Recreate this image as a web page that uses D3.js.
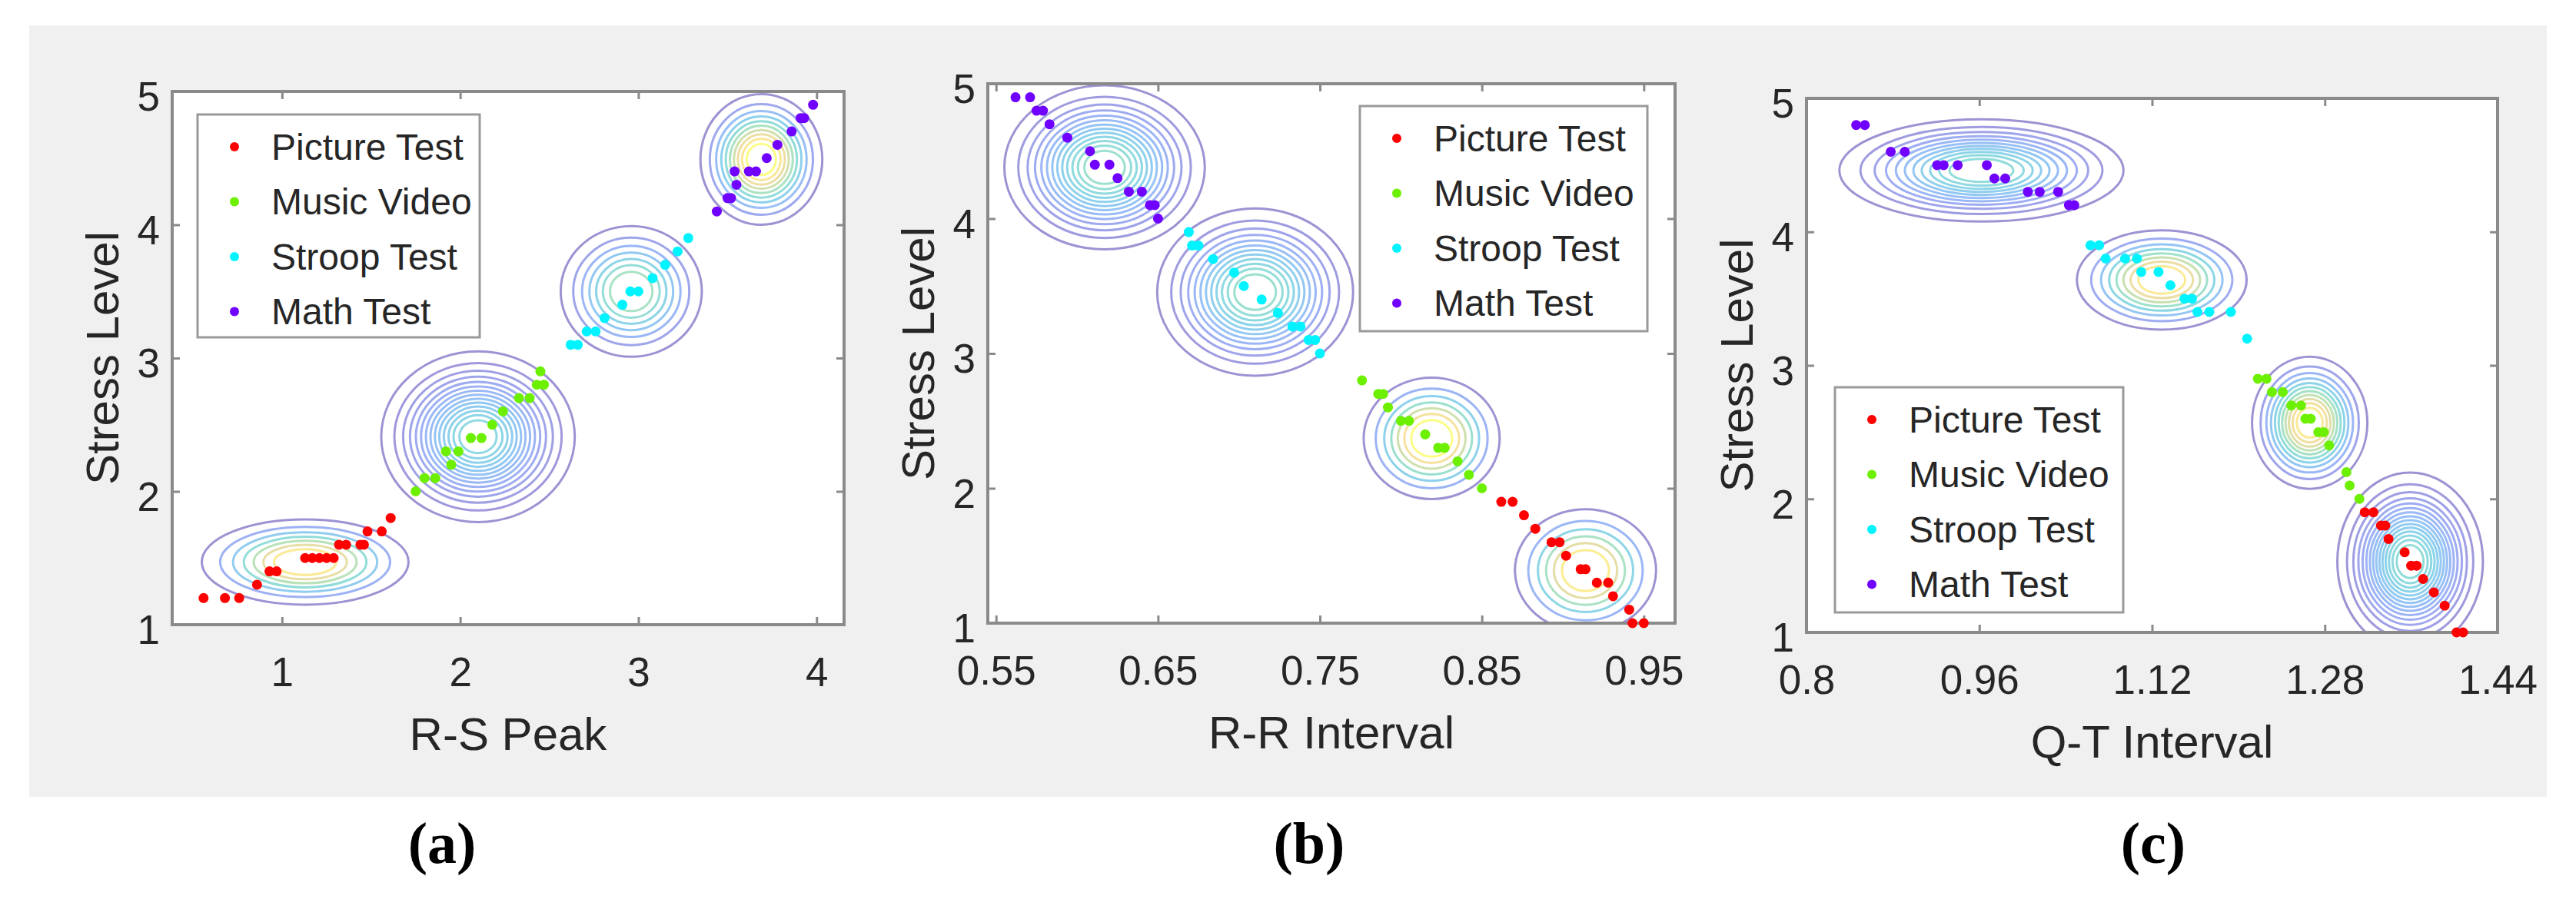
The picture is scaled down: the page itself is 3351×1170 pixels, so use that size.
<!DOCTYPE html>
<meta charset="utf-8">
<style>
  body { margin: 0; background: #fff; }
  text { font-family: "Liberation Sans", Arial, sans-serif; fill: #262626; }
  .tick line { stroke: #8a8a8a; stroke-width: 3px; }
  .tick text { font-size: 53px; }
  .domain { display: none; }
  .frame { fill: none; stroke: #8a8a8a; stroke-width: 4px; }
  .legend rect { fill: #fff; stroke: #9a9a9a; stroke-width: 3px; }
  .legend text { font-size: 48px; }
  .axis-label { font-size: 60px; text-anchor: middle; }
  .caption { font-family: "Palatino Linotype", "Book Antiqua", "Liberation Serif", serif; font-size: 76px; font-weight: bold; text-anchor: middle; fill: #000; }
</style>
<body>
<script src="https://d3js.org/d3.v7.min.js"></script>
<script>
// groups shared by all three panels
var groups = ["Picture Test", "Music Video", "Stroop Test", "Math Test"];
var yTicks = [1, 2, 3, 4, 5];

// (a) R-S Peak
var aTicks = [1, 2, 3, 4];
var aPictureX = [0.56,0.68,0.76,0.86,0.93,0.97,1.13,1.17,1.21,1.25,1.29,1.32,1.36,1.44,1.46,1.48,1.56,1.61];
var aPictureY = [1.2,1.2,1.2,1.3,1.4,1.4,1.5,1.5,1.5,1.5,1.5,1.6,1.6,1.6,1.6,1.7,1.7,1.8];
var aMusicX = [1.75,1.80,1.86,1.95,1.92,1.99,2.06,2.12,2.18,2.24,2.33,2.39,2.43,2.47,2.45];
var aMusicY = [2.0,2.1,2.1,2.2,2.3,2.3,2.4,2.4,2.5,2.6,2.7,2.7,2.8,2.8,2.9];
var aStroopX = [2.62,2.66,2.71,2.76,2.81,2.91,2.955,3.0,3.08,3.15,3.22,3.28];
var aStroopY = [3.1,3.1,3.2,3.2,3.3,3.4,3.5,3.5,3.6,3.7,3.8,3.9];
var aMathX = [3.44,3.50,3.52,3.55,3.54,3.62,3.66,3.72,3.78,3.86,3.91,3.93,3.98];
var aMathY = [4.1,4.2,4.2,4.3,4.4,4.4,4.4,4.5,4.6,4.7,4.8,4.8,4.9];
// gaussian contours: centre, outer half widths, ring count, colour reached by inner ring
var aCenterX = [1.13, 2.10, 2.96, 3.69];
var aCenterY = [1.47, 2.41, 3.50, 4.49];
var aSpreadX = [0.58, 0.543, 0.396, 0.342];
var aSpreadY = [0.32, 0.64, 0.49, 0.49];
var aRings = [7, 14, 7, 10];
var aPeak = [0.9, 0.4, 0.55, 1.0];

// (b) R-R Interval
var bTicks = [0.55, 0.65, 0.75, 0.85, 0.95];
var bPictureX = [0.862,0.869,0.876,0.883,0.893,0.898,0.902,0.911,0.914,0.921,0.928,0.931,0.941,0.943,0.950];
var bPictureY = [1.9,1.9,1.8,1.7,1.6,1.6,1.5,1.4,1.4,1.3,1.3,1.2,1.1,1.0,1.0];
var bMusicX = [0.776,0.786,0.789,0.792,0.800,0.805,0.815,0.823,0.827,0.835,0.842,0.850];
var bMusicY = [2.8,2.7,2.7,2.6,2.5,2.5,2.4,2.3,2.3,2.2,2.1,2.0];
var bStroopX = [0.669,0.671,0.675,0.684,0.697,0.703,0.714,0.724,0.733,0.738,0.743,0.747,0.750];
var bStroopY = [3.9,3.8,3.8,3.7,3.6,3.5,3.4,3.3,3.2,3.2,3.1,3.1,3.0];
var bMathX = [0.562,0.571,0.575,0.579,0.583,0.594,0.608,0.611,0.620,0.625,0.632,0.640,0.645,0.648,0.650];
var bMathY = [4.9,4.9,4.8,4.8,4.7,4.6,4.5,4.4,4.4,4.3,4.2,4.2,4.1,4.1,4.0];
var bCenterX = [0.914, 0.819, 0.710, 0.617];
var bCenterY = [1.39, 2.37, 3.455, 4.38];
var bSpreadX = [0.0436, 0.042, 0.0605, 0.0619];
var bSpreadY = [0.455, 0.45, 0.62, 0.608];
var bRings = [6, 7, 12, 13];
var bPeak = [0.92, 1.0, 0.5, 0.5];

// (c) Q-T Interval
var cTicks = [0.8, 0.96, 1.12, 1.28, 1.44];
var cPictureX = [1.317,1.325,1.332,1.336,1.339,1.354,1.360,1.365,1.371,1.381,1.391,1.402,1.408];
var cPictureY = [1.9,1.9,1.8,1.8,1.7,1.6,1.5,1.5,1.4,1.3,1.2,1.0,1.0];
var cMusicX = [1.218,1.226,1.231,1.241,1.249,1.258,1.262,1.267,1.274,1.279,1.284,1.300,1.303,1.312];
var cMusicY = [2.9,2.9,2.8,2.8,2.7,2.7,2.6,2.6,2.5,2.5,2.4,2.2,2.1,2.0];
var cStroopX = [1.063,1.071,1.077,1.095,1.106,1.110,1.126,1.137,1.150,1.157,1.162,1.173,1.193,1.208];
var cStroopY = [3.9,3.9,3.8,3.8,3.8,3.7,3.7,3.6,3.5,3.5,3.4,3.4,3.4,3.2];
var cMathX = [0.846,0.854,0.878,0.891,0.921,0.927,0.940,0.967,0.974,0.984,1.005,1.016,1.033,1.043,1.048];
var cMathY = [4.8,4.8,4.6,4.6,4.5,4.5,4.5,4.5,4.4,4.4,4.3,4.3,4.3,4.2,4.2];
var cCenterX = [1.359, 1.266, 1.129, 0.962];
var cCenterY = [1.53, 2.57, 3.64, 4.46];
var cSpreadX = [0.0674, 0.0534, 0.0786, 0.1316];
var cSpreadY = [0.667, 0.495, 0.372, 0.383];
var cRings = [15, 11, 8, 11];
var cPeak = [0.45, 0.9, 0.9, 0.45];

// colours
var groupColors = ["#ff0000", "#6cf000", "#00f4ff", "#7000ff"];
var parula = d3.interpolateRgbBasis(["#3e26a8","#4358f0","#2d8cf0","#13b0d0","#2ec4a0","#86c866","#d8b94a","#fcc434","#f9fb0e"]);

// layout of each panel (pixels)
var panels = [
  { name: "a", xLabel: "R-S Peak", xDomain: [0.384, 4.154], xTicks: aTicks,
    box: { l: 224, r: 1098, t: 119, b: 813 }, legend: { x: 257, y: 149, w: 367, h: 290 }, caption: 575,
    xs: [aPictureX, aMusicX, aStroopX, aMathX], ys: [aPictureY, aMusicY, aStroopY, aMathY],
    ring: [aCenterX, aCenterY, aSpreadX, aSpreadY, aRings, aPeak] },
  { name: "b", xLabel: "R-R Interval", xDomain: [0.5449, 0.9693], xTicks: bTicks,
    box: { l: 1285, r: 2179, t: 109, b: 811 }, legend: { x: 1769, y: 138, w: 374, h: 293 }, caption: 1703,
    xs: [bPictureX, bMusicX, bStroopX, bMathX], ys: [bPictureY, bMusicY, bStroopY, bMathY],
    ring: [bCenterX, bCenterY, bSpreadX, bSpreadY, bRings, bPeak] },
  { name: "c", xLabel: "Q-T Interval", xDomain: [0.8, 1.44], xTicks: cTicks,
    box: { l: 2350, r: 3249, t: 128, b: 823 }, legend: { x: 2387, y: 504, w: 375, h: 293 }, caption: 2801,
    xs: [cPictureX, cMusicX, cStroopX, cMathX], ys: [cPictureY, cMusicY, cStroopY, cMathY],
    ring: [cCenterX, cCenterY, cSpreadX, cSpreadY, cRings, cPeak] }
];

var svg = d3.select("body").append("svg")
    .attr("width", 3351)
    .attr("height", 1170);

// grey figure background
svg.append("rect")
    .attr("x", 38).attr("y", 33)
    .attr("width", 3275).attr("height", 1004)
    .attr("fill", "#f0f0f0");

panels.forEach(function(p) {
  var x = d3.scaleLinear().domain(p.xDomain).range([p.box.l, p.box.r]);
  var y = d3.scaleLinear().domain([1, 5]).range([p.box.b, p.box.t]);
  var g = svg.append("g");

  g.append("rect")
      .attr("x", p.box.l).attr("y", p.box.t)
      .attr("width", p.box.r - p.box.l).attr("height", p.box.b - p.box.t)
      .attr("fill", "#fff");

  g.append("clipPath").attr("id", "clip-" + p.name)
    .append("rect")
      .attr("x", p.box.l).attr("y", p.box.t)
      .attr("width", p.box.r - p.box.l).attr("height", p.box.b - p.box.t);

  // contour rings, outer to inner
  var rings = [];
  p.ring[0].forEach(function(cx, i) {
    var n = p.ring[4][i];
    for (var k = 1; k <= n; k++) {
      var rho = Math.sqrt(Math.log(k / (n + 1.5)) / Math.log(1 / (n + 1.5)));
      rings.push({
        cx: cx, cy: p.ring[1][i],
        rx: p.ring[2][i] * rho, ry: p.ring[3][i] * rho,
        c: p.ring[5][i] * (k - 1) / (n - 1)
      });
    }
  });
  g.append("g").attr("clip-path", "url(#clip-" + p.name + ")")
    .selectAll("ellipse").data(rings).enter().append("ellipse")
      .attr("cx", function(d) { return x(d.cx); })
      .attr("cy", function(d) { return y(d.cy); })
      .attr("rx", function(d) { return x(d.cx + d.rx) - x(d.cx); })
      .attr("ry", function(d) { return y(d.cy) - y(d.cy + d.ry); })
      .attr("fill", "none")
      .attr("stroke", function(d) { return parula(d.c); })
      .attr("stroke-opacity", 0.5)
      .attr("stroke-width", 3);

  // axes with inward ticks on all four sides
  g.append("g").attr("transform", "translate(0," + p.box.b + ")")
    .call(d3.axisBottom(x).tickValues(p.xTicks).tickFormat(String).tickSize(-10).tickPadding(42));
  g.append("g").attr("transform", "translate(0," + p.box.t + ")")
    .call(d3.axisTop(x).tickValues(p.xTicks).tickFormat("").tickSize(-10));
  g.append("g").attr("transform", "translate(" + p.box.l + ",0)")
    .call(d3.axisLeft(y).tickValues(yTicks).tickFormat(String).tickSize(-10).tickPadding(16))
    .selectAll("text").attr("dy", "0.47em");
  g.append("g").attr("transform", "translate(" + p.box.r + ",0)")
    .call(d3.axisRight(y).tickValues(yTicks).tickFormat("").tickSize(-10));

  g.append("rect").attr("class", "frame")
      .attr("x", p.box.l).attr("y", p.box.t)
      .attr("width", p.box.r - p.box.l).attr("height", p.box.b - p.box.t);

  // scatter points, drawn over the frame
  groups.forEach(function(grp, gi) {
    g.append("g").selectAll("circle")
      .data(d3.zip(p.xs[gi], p.ys[gi]))
      .enter().append("circle")
        .attr("cx", function(d) { return x(d[0]); })
        .attr("cy", function(d) { return y(d[1]); })
        .attr("r", 6.5)
        .attr("fill", groupColors[gi]);
  });

  // axis labels
  g.append("text").attr("class", "axis-label")
      .attr("x", (p.box.l + p.box.r) / 2)
      .attr("y", p.box.b + 163)
      .text(p.xLabel);
  g.append("text").attr("class", "axis-label")
      .attr("transform", "translate(" + (p.box.l - 70) + "," + (p.box.t + p.box.b) / 2 + ") rotate(-90)")
      .text("Stress Level");

  // legend
  var lg = g.append("g").attr("class", "legend")
      .attr("transform", "translate(" + p.legend.x + "," + p.legend.y + ")");
  lg.append("rect").attr("width", p.legend.w).attr("height", p.legend.h);
  var row = lg.selectAll(".row").data(groups).enter().append("g")
      .attr("transform", function(d, i) { return "translate(0," + (42 + i * 71.5) + ")"; });
  row.append("circle").attr("cx", 48).attr("r", 6)
      .attr("fill", function(d, i) { return groupColors[i]; });
  row.append("text").attr("x", 96).attr("dy", "0.35em").text(function(d) { return d; });

  // panel caption
  svg.append("text").attr("class", "caption")
      .attr("x", p.caption).attr("y", 1123)
      .text("(" + p.name + ")");
});
</script>
</body>
